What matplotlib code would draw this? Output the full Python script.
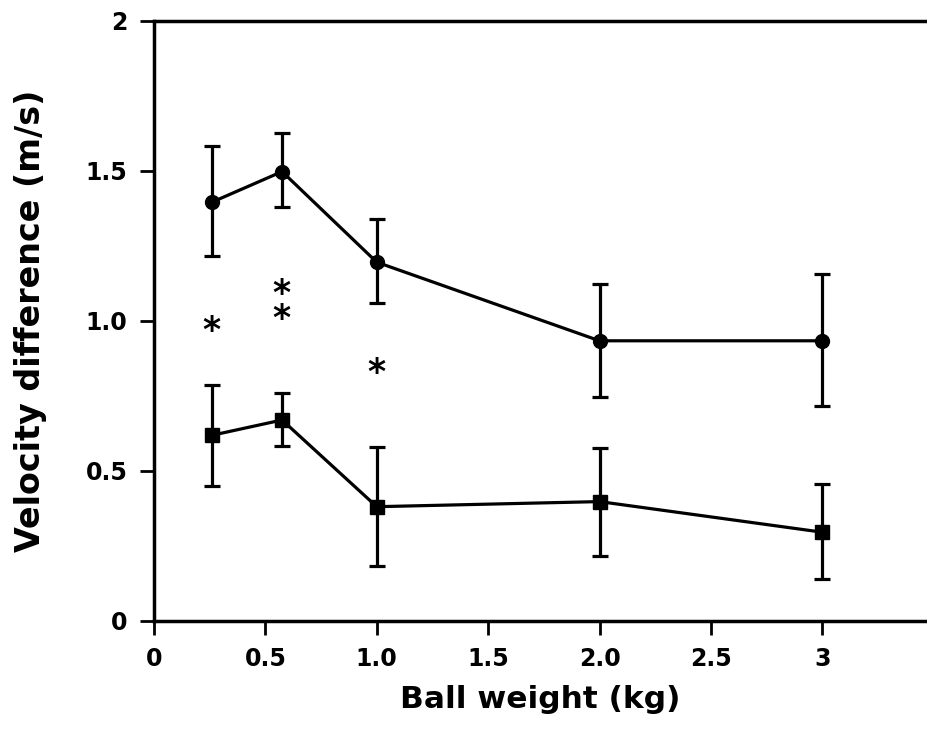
import matplotlib
matplotlib.use("Agg")

import matplotlib.pyplot as plt
import numpy as np

# ── Data ───────────────────────────────────────────────────────────────────────
ball_weight = [0.26, 0.575, 1.0, 2.0, 3.0]

circle_mean  = [1.395, 1.497, 1.195, 0.933, 0.933]
circle_upper = [1.582, 1.625, 1.338, 1.122, 1.155]
circle_lower = [1.217, 1.379, 1.058, 0.745, 0.715]

square_mean  = [0.618, 0.669, 0.380, 0.397, 0.295]
square_upper = [0.786, 0.758, 0.578, 0.576, 0.456]
square_lower = [0.450, 0.582, 0.182, 0.217, 0.138]

star_x = [0.257, 0.57, 1.0]
star_y = [0.985, 1.066, 0.845]
star_labels = ["*", "*\n*", "*"]

x_ticks = [0, 0.5, 1.0, 1.5, 2.0, 2.5, 3.0]
x_tick_labels = ["0", "0.5", "1.0", "1.5", "2.0", "2.5", "3"]
y_ticks = [0, 0.5, 1.0, 1.5, 2.0]
y_tick_labels = ["0", "0.5", "1.0", "1.5", "2"]

FONT = "DejaVu Sans"

fig = plt.figure(figsize=(9.27, 7.52), dpi=100)
ax = fig.add_axes([0.1661, 0.1746, 0.8339, 0.7979])


def _err(mean, upper, lower):
    m = np.array(mean)
    return [m - np.array(lower), np.array(upper) - m]


ax.errorbar(ball_weight, circle_mean, yerr=_err(circle_mean, circle_upper, circle_lower),
            fmt="-o", color="black", lw=2.3, ms=10, elinewidth=2.3,
            capsize=6, capthick=2.3, zorder=3)
ax.errorbar(ball_weight, square_mean, yerr=_err(square_mean, square_upper, square_lower),
            fmt="-s", color="black", lw=2.3, ms=9.5, elinewidth=2.3,
            capsize=6, capthick=2.3, zorder=3)

# significance asterisks
for sx, sy, lab in zip(star_x, star_y, star_labels):
    ax.annotate(lab, (sx, sy), xytext=(0, -4), textcoords="offset points",
                ha="center", va="center", fontsize=25, linespacing=0.65,
                fontweight="bold", family=FONT, color="black")

ax.set_xlim(0, 3.47)
ax.set_ylim(0, 2)
ax.set_xticks(x_ticks)
ax.set_xticklabels(x_tick_labels, fontsize=17, fontweight="bold", family=FONT)
ax.set_yticks(y_ticks)
ax.set_yticklabels(y_tick_labels, fontsize=17, fontweight="bold", family=FONT)
ax.tick_params(direction="out", length=10, width=2, pad=9)

for side in ["left", "top", "bottom"]:
    ax.spines[side].set_linewidth(2.5)
ax.spines["right"].set_visible(False)

ax.set_xlabel("Ball weight (kg)", fontsize=22.5, fontweight="bold", family=FONT, labelpad=10)
ax.set_ylabel("Velocity difference (m/s)", fontsize=24, fontweight="bold", family=FONT,
              labelpad=28)

fig.savefig("out.png", dpi=100)
